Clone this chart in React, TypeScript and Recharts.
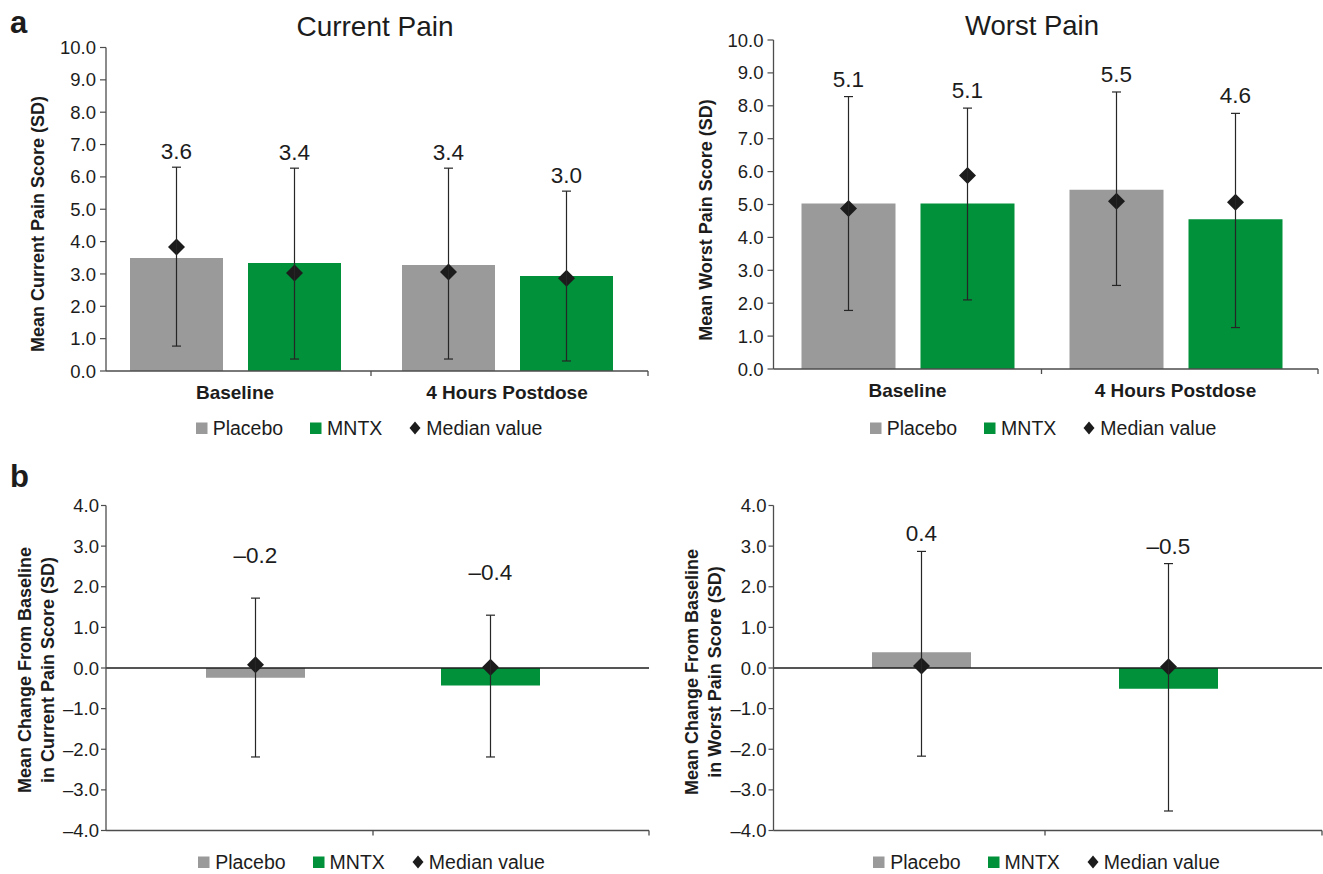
import React from "react";
import {
  Bar,
  Cell,
  ComposedChart,
  ErrorBar,
  Legend,
  ReferenceLine,
  XAxis,
  YAxis
} from "recharts";

const FONT = '"Liberation Sans", Arial, Helvetica, sans-serif';
const GRAY = "#9a9a9a";
const GREEN = "#00913a";
const INK = "#1c1c1c";
const AXIS = "#4d4d4d";

// panel a: visits
const visits = ["Baseline", "4 Hours Postdose"];

const currentPlaceboMean = [3.49, 3.28];
const currentPlaceboLow = [0.77, 0.37];
const currentPlaceboHigh = [6.3, 6.27];
const currentPlaceboMedian = [3.83, 3.06];
const currentPlaceboLabels = ["3.6", "3.4"];
const currentMntxMean = [3.34, 2.94];
const currentMntxLow = [0.37, 0.31];
const currentMntxHigh = [6.27, 5.56];
const currentMntxMedian = [3.03, 2.87];
const currentMntxLabels = ["3.4", "3.0"];

const worstPlaceboMean = [5.03, 5.45];
const worstPlaceboLow = [1.78, 2.54];
const worstPlaceboHigh = [8.28, 8.42];
const worstPlaceboMedian = [4.88, 5.1];
const worstPlaceboLabels = ["5.1", "5.5"];
const worstMntxMean = [5.03, 4.55];
const worstMntxLow = [2.1, 1.26];
const worstMntxHigh = [7.93, 7.77];
const worstMntxMedian = [5.88, 5.07];
const worstMntxLabels = ["5.1", "4.6"];

// panel b: change from baseline, one bar per group
const groups = ["Placebo", "MNTX"];

const currentChangeMean = [-0.24, -0.43];
const currentChangeLow = [-2.19, -2.19];
const currentChangeHigh = [1.72, 1.3];
const currentChangeMedian = [0.08, 0.02];
const currentChangeLabels = ["\u20130.2", "\u20130.4"];

const worstChangeMean = [0.39, -0.51];
const worstChangeLow = [-2.17, -3.52];
const worstChangeHigh = [2.87, 2.57];
const worstChangeMedian = [0.05, 0.03];
const worstChangeLabels = ["0.4", "\u20130.5"];

const scoreTicks = [0, 1, 2, 3, 4, 5, 6, 7, 8, 9, 10];
const changeTicks = [-4, -3, -2, -1, 0, 1, 2, 3, 4];

const legendNames = ["Placebo", "MNTX", "Median value"];
const legendColors = [GRAY, GREEN, INK];

type SeriesInput = {
  key: string;
  mean: number[];
  low: number[];
  high: number[];
  median: number[];
  labels: string[];
};

function buildRows(names: string[], series: SeriesInput[]) {
  return names.map((name, i) => {
    const row: Record<string, any> = { name };
    series.forEach((s) => {
      row[s.key] = s.mean[i];
      row[`${s.key}Err`] = [s.mean[i] - s.low[i], s.high[i] - s.mean[i]];
      row[`${s.key}Median`] = s.median[i];
      row[`${s.key}High`] = s.high[i];
      row[`${s.key}Label`] = s.labels[i];
    });
    return row;
  });
}

const currentRows = buildRows(visits, [
  { key: "placebo", mean: currentPlaceboMean, low: currentPlaceboLow, high: currentPlaceboHigh, median: currentPlaceboMedian, labels: currentPlaceboLabels },
  { key: "mntx", mean: currentMntxMean, low: currentMntxLow, high: currentMntxHigh, median: currentMntxMedian, labels: currentMntxLabels }
]);

const worstRows = buildRows(visits, [
  { key: "placebo", mean: worstPlaceboMean, low: worstPlaceboLow, high: worstPlaceboHigh, median: worstPlaceboMedian, labels: worstPlaceboLabels },
  { key: "mntx", mean: worstMntxMean, low: worstMntxLow, high: worstMntxHigh, median: worstMntxMedian, labels: worstMntxLabels }
]);

const currentChangeRows = buildRows(groups, [
  { key: "change", mean: currentChangeMean, low: currentChangeLow, high: currentChangeHigh, median: currentChangeMedian, labels: currentChangeLabels }
]);

const worstChangeRows = buildRows(groups, [
  { key: "change", mean: worstChangeMean, low: worstChangeLow, high: worstChangeHigh, median: worstChangeMedian, labels: worstChangeLabels }
]);

const formatTick = (v: number) =>
  v < 0 ? `\u2013${Math.abs(v).toFixed(1)}` : v.toFixed(1);

function diamondShape(props: any) {
  const { x, y, width } = props;
  const cx = x + width / 2;
  const r = 8.5;
  return (
    <polygon
      points={`${cx},${y - r} ${cx + r},${y} ${cx},${y + r} ${cx - r},${y}`}
      fill={INK}
    />
  );
}

const valueLabel = (key: string, gap: number) => (props: any) => {
  const { x, y, width, payload } = props;
  return (
    <text
      x={x + width / 2}
      y={y - gap}
      textAnchor="middle"
      fontSize={22.5}
      fontFamily={FONT}
      fill={INK}
    >
      {payload[key]}
    </text>
  );
};

function EdgeTick(props: any) {
  const { x, y, index, payload, halfBand, padRight, count, showLabel } = props;
  const edge = index === count - 1 ? x + halfBand + padRight : x + halfBand;
  return (
    <g>
      <line x1={edge} y1={y} x2={edge} y2={y + 5} stroke={AXIS} strokeWidth={1.3} />
      {showLabel && (
        <text
          x={x}
          y={y + 27.5}
          textAnchor="middle"
          fontSize={19}
          fontWeight="bold"
          fontFamily={FONT}
          fill={INK}
        >
          {payload.value}
        </text>
      )}
    </g>
  );
}

function LegendRow() {
  return (
    <div
      style={{
        display: "flex",
        justifyContent: "center",
        alignItems: "center",
        fontFamily: FONT,
        fontSize: 19.5,
        lineHeight: "22px",
        color: INK
      }}
    >
      {legendNames.map((name, i) => (
        <div key={name} style={{ display: "flex", alignItems: "center", marginRight: i < 2 ? 27 : 0 }}>
          <svg width={12} height={14} style={{ marginRight: 5 }}>
            {i < 2 ? (
              <rect x={0} y={1.5} width={11.5} height={11.5} fill={legendColors[i]} />
            ) : (
              <polygon points="6,0.5 11.5,7 6,13.5 0.5,7" fill={legendColors[i]} />
            )}
          </svg>
          <span>{name}</span>
        </div>
      ))}
    </div>
  );
}

type PanelProps = {
  left: number;
  top: number;
  width: number;
  height: number;
  margin: { top: number; right: number; bottom: number; left: number };
  yWidth: number;
  xHeight: number;
  padding: { left: number; right: number };
  barSize: number;
  barGap: number;
  domain: [number, number];
  ticks: number[];
  rows: Record<string, any>[];
  series: { key: string; fill: string[] }[];
  labelGap: number;
  showCategoryLabels: boolean;
  zeroLine: boolean;
  tickSize: number;
  tickMargin: number;
  legendTop: number;
  legendCenter: number;
};

function Panel(p: PanelProps) {
  const plotWidth = p.width - p.margin.left - p.margin.right - p.yWidth;
  const halfBand = (plotWidth - p.padding.left - p.padding.right) / p.rows.length / 2;
  const renderTick = (t: any) => (
    <EdgeTick
      {...t}
      halfBand={halfBand}
      padRight={p.padding.right}
      count={p.rows.length}
      showLabel={p.showCategoryLabels}
    />
  );

  return (
    <div style={{ position: "absolute", left: p.left, top: p.top }}>
      <ComposedChart
        width={p.width}
        height={p.height}
        data={p.rows}
        margin={p.margin}
        barSize={p.barSize}
        barGap={p.barGap}
      >
        <XAxis
          dataKey="name"
          height={p.xHeight}
          padding={p.padding}
          interval={0}
          tickLine={false}
          tickSize={0}
          tickMargin={0}
          tick={renderTick}
          axisLine={{ stroke: AXIS, strokeWidth: 1.3 }}
        />
        <XAxis xAxisId="median" dataKey="name" padding={p.padding} hide />
        <XAxis xAxisId="value" dataKey="name" padding={p.padding} hide />
        <YAxis
          width={p.yWidth}
          domain={p.domain}
          ticks={p.ticks}
          interval={0}
          allowDataOverflow
          tickFormatter={formatTick}
          tickSize={p.tickSize}
          tickMargin={p.tickMargin}
          tick={{ fontSize: 18.5, fill: INK, fontFamily: FONT }}
          tickLine={{ stroke: AXIS, strokeWidth: 1.2 }}
          axisLine={{ stroke: AXIS, strokeWidth: 1.3 }}
        />
        {p.zeroLine && <ReferenceLine y={0} stroke={INK} strokeWidth={1.3} />}
        {p.series.map((s) => (
          <Bar key={s.key} dataKey={s.key} fill={s.fill[0]} isAnimationActive={false}>
            {p.rows.map((_, i) => (
              <Cell key={i} fill={s.fill[i % s.fill.length]} />
            ))}
            <ErrorBar
              dataKey={`${s.key}Err`}
              width={4.5}
              stroke="#262626"
              strokeWidth={1.2}
              direction="y"
            />
          </Bar>
        ))}
        {p.series.map((s) => (
          <Bar
            key={`${s.key}-median`}
            xAxisId="median"
            dataKey={`${s.key}Median`}
            shape={diamondShape}
            legendType="none"
            isAnimationActive={false}
          />
        ))}
        {p.series.map((s) => (
          <Bar
            key={`${s.key}-value`}
            xAxisId="value"
            dataKey={`${s.key}High`}
            shape={valueLabel(`${s.key}Label`, p.labelGap)}
            legendType="none"
            isAnimationActive={false}
          />
        ))}
        <Legend
          verticalAlign="middle"
          align="center"
          layout="horizontal"
          content={() => <LegendRow />}
          wrapperStyle={{ top: p.legendTop, left: p.legendCenter - 250, width: 500 }}
        />
      </ComposedChart>
    </div>
  );
}

function RotatedTitle({ x, y, text }: { x: number; y: number; text: string }) {
  return (
    <text
      x={x}
      y={y}
      transform={`rotate(-90 ${x} ${y})`}
      textAnchor="middle"
      fontSize={18}
      fontWeight="bold"
      fontFamily={FONT}
      fill={INK}
    >
      {text}
    </text>
  );
}

export default function App() {
  return (
    <div
      style={{
        position: "absolute",
        left: 0,
        top: 0,
        width: 1323,
        height: 874,
        background: "#fff",
        overflow: "hidden"
      }}
    >
      <Panel
        left={0}
        top={0}
        width={660}
        height={440}
        margin={{ top: 47.5, right: 12, bottom: 29, left: 0 }}
        yWidth={106}
        xHeight={40}
        padding={{ left: -7, right: 5 }}
        barSize={93}
        barGap={25}
        domain={[0, 10]}
        ticks={scoreTicks}
        rows={currentRows}
        series={[
          { key: "placebo", fill: [GRAY] },
          { key: "mntx", fill: [GREEN] }
        ]}
        labelGap={8}
        showCategoryLabels
        zeroLine={false}
        tickSize={6}
        tickMargin={4}
        legendTop={417}
        legendCenter={369}
      />
      <Panel
        left={660}
        top={0}
        width={663}
        height={440}
        margin={{ top: 40, right: 5, bottom: 31, left: 0 }}
        yWidth={113.5}
        xHeight={40}
        padding={{ left: 0, right: 8.5 }}
        barSize={94}
        barGap={25}
        domain={[0, 10]}
        ticks={scoreTicks}
        rows={worstRows}
        series={[
          { key: "placebo", fill: [GRAY] },
          { key: "mntx", fill: [GREEN] }
        ]}
        labelGap={10}
        showCategoryLabels
        zeroLine={false}
        tickSize={6}
        tickMargin={4}
        legendTop={417}
        legendCenter={383}
      />
      <Panel
        left={0}
        top={440}
        width={660}
        height={434}
        margin={{ top: 65.5, right: 11, bottom: 33.5, left: 0 }}
        yWidth={106}
        xHeight={10}
        padding={{ left: 32, right: 41 }}
        barSize={99}
        barGap={0}
        domain={[-4, 4]}
        ticks={changeTicks}
        rows={currentChangeRows}
        series={[{ key: "change", fill: [GRAY, GREEN] }]}
        labelGap={35}
        showCategoryLabels={false}
        zeroLine
        tickSize={5}
        tickMargin={2}
        legendTop={411}
        legendCenter={371.5}
      />
      <Panel
        left={660}
        top={440}
        width={663}
        height={434}
        margin={{ top: 65.5, right: 1, bottom: 33.5, left: 0 }}
        yWidth={113.5}
        xHeight={10}
        padding={{ left: 24.5, right: 30 }}
        barSize={99}
        barGap={0}
        domain={[-4, 4]}
        ticks={changeTicks}
        rows={worstChangeRows}
        series={[{ key: "change", fill: [GRAY, GREEN] }]}
        labelGap={10}
        showCategoryLabels={false}
        zeroLine
        tickSize={5}
        tickMargin={2}
        legendTop={411}
        legendCenter={386.5}
      />
      <svg
        width={1323}
        height={874}
        style={{ position: "absolute", left: 0, top: 0, pointerEvents: "none" }}
      >
        <text x={10} y={33} fontSize={31} fontWeight="bold" fontFamily={FONT} fill={INK}>a</text>
        <text x={10} y={487} fontSize={31} fontWeight="bold" fontFamily={FONT} fill={INK}>b</text>
        <text x={375} y={36} textAnchor="middle" fontSize={28} fontFamily={FONT} fill={INK}>Current Pain</text>
        <text x={1032} y={35} textAnchor="middle" fontSize={27.5} fontFamily={FONT} fill={INK}>Worst Pain</text>
        <RotatedTitle x={43.5} y={224} text="Mean Current Pain Score (SD)" />
        <RotatedTitle x={711.5} y={220} text="Mean Worst Pain Score (SD)" />
        <RotatedTitle x={30.5} y={670} text="Mean Change From Baseline" />
        <RotatedTitle x={53.5} y={670} text="in Current Pain Score (SD)" />
        <RotatedTitle x={697.5} y={672} text="Mean Change From Baseline" />
        <RotatedTitle x={720.5} y={672} text="in Worst Pain Score (SD)" />
      </svg>
    </div>
  );
}
